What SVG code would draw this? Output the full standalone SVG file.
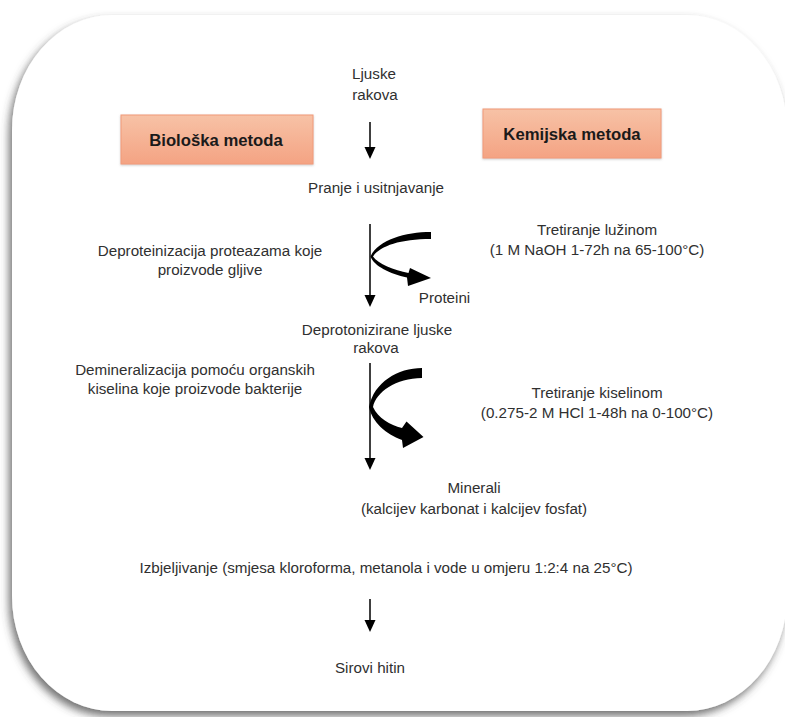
<svg xmlns="http://www.w3.org/2000/svg" width="785" height="717" viewBox="0 0 785 717">
<defs>
<style>
text{font-family:"Liberation Sans",Arial,sans-serif;font-size:15.2px;fill:#303030;text-anchor:middle}
.lbl{font-weight:bold;font-size:16.7px;fill:#1a1a1a}
.box{fill:url(#boxg);stroke:#f29a78;stroke-width:1}
.flow{stroke:#000;stroke-width:1.5;fill:none;marker-end:url(#ah)}
.curve{fill:#000}
</style>
<linearGradient id="boxg" x1="0" y1="0" x2="0" y2="1">
<stop offset="0" stop-color="#f7c2a6"/>
<stop offset="1" stop-color="#f4a383"/>
</linearGradient>
<marker id="ah" markerUnits="userSpaceOnUse" markerWidth="12" markerHeight="12" viewBox="0 0 12 12" refX="2" refY="6" orient="auto">
<path d="M0,0.5 L12,6 L0,11.5 Z" fill="#000"/>
</marker>
<filter id="shadow" x="-5%" y="-5%" width="110%" height="110%">
<feDropShadow dx="-3" dy="5" stdDeviation="4.5" flood-color="#444" flood-opacity="0.75"/>
</filter>
<filter id="bshadow" x="-10%" y="-10%" width="120%" height="130%">
<feDropShadow dx="0" dy="1" stdDeviation="1" flood-color="#999" flood-opacity="0.5"/>
</filter>
</defs>
<rect x="0" y="0" width="785" height="717" fill="#ffffff"/>
<rect id="card" x="12" y="15" width="775" height="696" rx="100" ry="115" fill="#ffffff" filter="url(#shadow)"/>

<g id="connectors">
<line class="flow" x1="370" y1="122" x2="370" y2="149"/>
<line class="flow" x1="370" y1="224" x2="370" y2="297"/>
<line class="flow" x1="370" y1="363" x2="370" y2="460"/>
<line class="flow" x1="370" y1="599" x2="370" y2="622"/>
<path class="curve" d="M431,232 C405,232 378,240 370.5,256.5 C374,266 390,274 407,277.5 L408,286 L431,278 L410,268 L408.5,273 C394,270 378,264 373,256.5 C380,246 400,239 431,239 Z"/>
<path class="curve" d="M422,368 C398,368 374,382 369,407 C372,422 386,434 402,440 L403,448 L423.5,437 L406.5,421.5 L402,428 C390,425 378,418 373,407 C376,392 396,378 422,378 Z"/>
</g>

<g id="ljuske"><text x="374" y="79">Ljuske</text><text x="375" y="100">rakova</text></g>
<g id="bioloska"><rect class="box" x="121" y="115" width="192" height="49" filter="url(#bshadow)"/><text class="lbl" x="216" y="146">Biološka metoda</text></g>
<g id="kemijska"><rect class="box" x="483" y="109" width="178" height="49" filter="url(#bshadow)"/><text class="lbl" x="572" y="140">Kemijska metoda</text></g>
<g id="pranje"><text x="376" y="193">Pranje i usitnjavanje</text></g>
<g id="luzina"><text x="597" y="235">Tretiranje lužinom</text><text x="597" y="255">(1 M NaOH 1-72h na 65-100°C)</text></g>
<g id="deproteinizacija"><text x="210" y="256">Deproteinizacija proteazama koje</text><text x="210" y="275">proizvode gljive</text></g>
<g id="proteini"><text x="444.5" y="303">Proteini</text></g>
<g id="deprotonizirane"><text x="377" y="335">Deprotonizirane ljuske</text><text x="376" y="353">rakova</text></g>
<g id="demineralizacija"><text x="195" y="375">Demineralizacija pomoću organskih</text><text x="195" y="394">kiselina koje proizvode bakterije</text></g>
<g id="kiselina"><text x="597" y="398">Tretiranje kiselinom</text><text x="597" y="418">(0.275-2 M HCl 1-48h na 0-100°C)</text></g>
<g id="minerali"><text x="474" y="493">Minerali</text><text x="474" y="514">(kalcijev karbonat i kalcijev fosfat)</text></g>
<g id="izbjeljivanje"><text x="386" y="573">Izbjeljivanje (smjesa kloroforma, metanola i vode u omjeru 1:2:4 na 25°C)</text></g>
<g id="hitin"><text x="370" y="673">Sirovi hitin</text></g>
</svg>
